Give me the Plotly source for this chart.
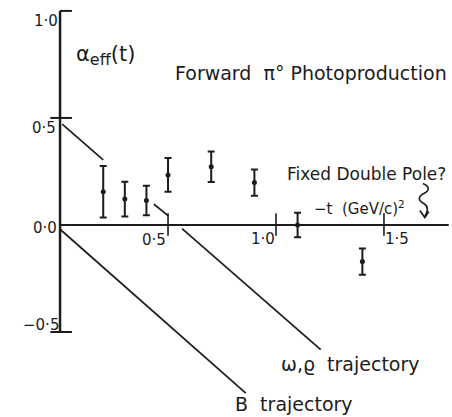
import plotly.graph_objects as go

# Measured effective trajectory alpha_eff(t) versus -t
minus_t = [0.20, 0.30, 0.40, 0.50, 0.70, 0.90, 1.10, 1.40]
alpha_eff = [0.155, 0.121, 0.114, 0.234, 0.272, 0.198, 0.0, -0.171]
alpha_err = [0.120, 0.081, 0.069, 0.079, 0.071, 0.061, 0.057, 0.061]

# Trajectory lines (segments separated by None)
omega_rho_t = [0.01, 0.20, None, 0.435, 0.50, None, 0.565, 1.207]
omega_rho_alpha = [0.471, 0.304, None, 0.097, 0.044, None, -0.017, -0.582]
b_traj_t = [0.0, 0.86]
b_traj_alpha = [-0.02, -0.785]

# Axis tick values and labels
x_ticks = [0.5, 1.0, 1.5]
x_tick_labels = ["0·5", "1·0", "1·5"]
y_ticks = [1.0, 0.5, -0.5]
y_tick_labels = ["1·0", "0·5", "0·0", "−0·5"]

INK = "#1c1c1c"
FONT = "DejaVu Sans"

fig = go.Figure()

fig.add_trace(go.Scatter(
    x=omega_rho_t, y=omega_rho_alpha, mode="lines",
    line=dict(color=INK, width=1.7), connectgaps=False, hoverinfo="skip"))
fig.add_trace(go.Scatter(
    x=b_traj_t, y=b_traj_alpha, mode="lines",
    line=dict(color=INK, width=1.7), hoverinfo="skip"))

fig.add_trace(go.Scatter(
    x=minus_t, y=alpha_eff, mode="markers",
    marker=dict(color=INK, size=5),
    error_y=dict(type="data", array=alpha_err, visible=True,
                 color=INK, thickness=2, width=3.5)))

# Hand-drawn style axes
fig.add_shape(type="line", x0=0, x1=0, y0=-0.5, y1=1.0,
              line=dict(color=INK, width=2.5))
fig.add_shape(type="line", x0=0, x1=1.80, y0=0, y1=0,
              line=dict(color=INK, width=2.2))
for xv in x_ticks:
    fig.add_shape(type="line", x0=xv, x1=xv, y0=-0.05, y1=0.055,
                  line=dict(color=INK, width=1.6))
for yv in y_ticks:
    fig.add_shape(type="line", x0=-0.045 if yv != 1.0 else 0.0, x1=0.055,
                  y0=yv, y1=yv, line=dict(color=INK, width=2))

# Tick labels
y_label_pos = [(-0.065, 0.955), (-0.075, 0.455), (-0.07, -0.015), (-0.09, -0.465)]
for (xx, yy), txt in zip(y_label_pos, y_tick_labels):
    fig.add_annotation(x=xx, y=yy, text=txt, showarrow=False,
                       font=dict(family=FONT, size=15, color=INK))
x_label_pos = [(0.435, -0.07), (0.94, -0.065), (1.56, -0.065)]
for (xx, yy), txt in zip(x_label_pos, x_tick_labels):
    fig.add_annotation(x=xx, y=yy, text=txt, showarrow=False,
                       font=dict(family=FONT, size=15, color=INK))

texts = [
    (0.21, 0.79,
     "α<sub><span style='font-size:16px'>eff</span></sub>(t)", 21),
    (1.16, 0.71, "Forward  π° Photoproduction", 19),
    (1.417, 0.238, "Fixed Double Pole?", 17),
    (1.385, 0.08, "−t  (GeV/c)<sup>2</sup>", 15),
    (1.345, -0.65, "ω,ϱ  trajectory", 19),
    (1.085, -0.838, "B  trajectory", 19),
]
for xx, yy, txt, sz in texts:
    fig.add_annotation(x=xx, y=yy, text=txt, showarrow=False,
                       font=dict(family=FONT, size=sz, color=INK))

# Squiggly arrow pointing at the axis
fig.add_shape(type="path", xref="x", yref="y",
              xsizemode="pixel", ysizemode="pixel", xanchor=1.68, yanchor=0.035,
              path="M 0,34 C 7,31 7,27 1,24 C -5,21 -5,17 1,14 C 6,11 5,6 2,1",
              line=dict(color=INK, width=1.6))
fig.add_shape(type="path", xref="x", yref="y",
              xsizemode="pixel", ysizemode="pixel", xanchor=1.68, yanchor=0.035,
              path="M -3,7 L 2,0 L 6,6",
              line=dict(color=INK, width=1.6))

fig.update_layout(
    width=452, height=417, autosize=False,
    margin=dict(l=0, r=0, t=0, b=0),
    paper_bgcolor="white", plot_bgcolor="white",
    showlegend=False,
    xaxis=dict(range=[-0.278, 1.815], visible=False, fixedrange=True),
    yaxis=dict(range=[-0.897, 1.051], visible=False, fixedrange=True),
)

fig.write_html("out.html")
